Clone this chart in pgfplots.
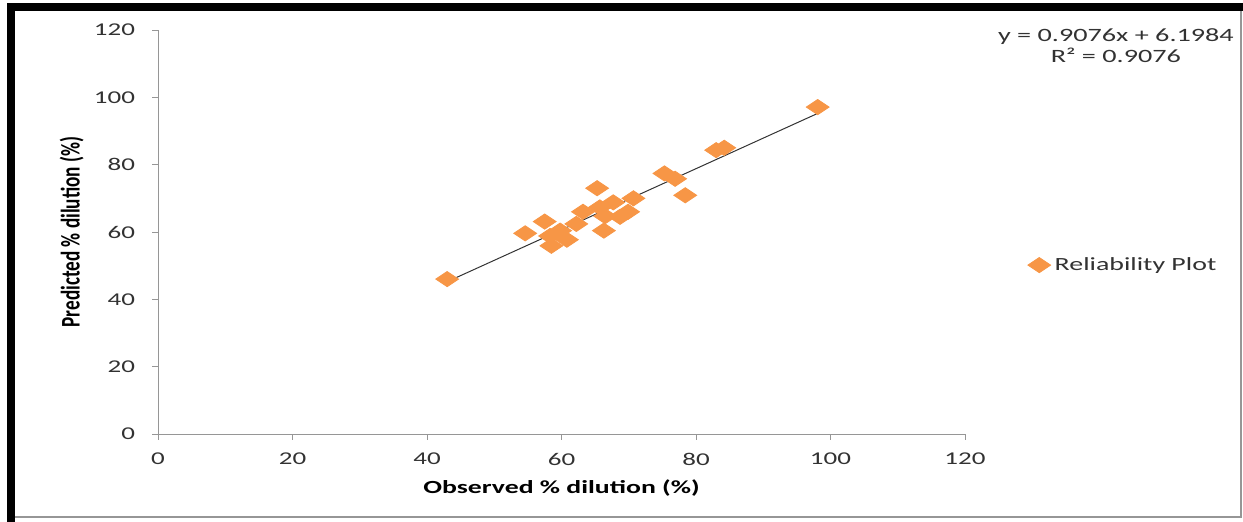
\documentclass[border=0pt]{standalone}
\usepackage{fontspec}
\setmainfont[FakeStretch=1.5]{Carlito}
\newfontfamily\narrowfont{Carlito}
\usepackage{pgfplots}
\pgfplotsset{compat=1.18}
\usepackage{graphicx}
\definecolor{xlorange}{RGB}{247,150,70}
\definecolor{axgray}{RGB}{150,150,150}
\definecolor{txt}{RGB}{50,50,50}

\begin{document}
\begin{tikzpicture}
\useasboundingbox (0pt,0pt) rectangle (621.5pt,261pt);
\begin{axis}[
    at={(79pt,44pt)}, anchor=south west,
    scale only axis,
    width=403.5pt, height=202pt,
    clip=false,
    xmin=0, xmax=120, ymin=0, ymax=120,
    xtick={0,20,...,120}, ytick={0,20,...,120},
    axis x line=bottom, axis y line=left,
    axis line style={axgray, -},
    tick align=outside,
    major tick length=3pt,
    tick style={axgray},
    /pgf/number format/assume math mode=true,
    tick label style={font=\fontsize{9}{10}\selectfont, text=txt},
    yticklabel style={xshift=-5pt},
    xticklabel style={yshift=-3pt},
    xlabel={\bfseries\fontsize{9.25}{10}\selectfont Observed \% dilution (\%)},
    ylabel={\scalebox{1}[1.4]{\narrowfont\bfseries\fontsize{9.6}{10}\selectfont Predicted \% dilution (\%)}},
    xlabel style={at={(axis description cs:0.5,0)}, anchor=center, yshift=-27pt},
    every axis y label/.append style={at={(axis description cs:-0.107,0.5)}, anchor=center},
    legend style={at={(1.07,0.418)}, anchor=west, draw=none, fill=none,
        font=\fontsize{9.3}{10}\selectfont, text=txt},
    legend cell align=left,
]
\addplot[only marks, mark=diamond*, mark size=3.8pt,
    mark options={xscale=2.0, fill=xlorange, draw=xlorange}] coordinates {
    (43.0,46.0) (98.1,97.1) (84.2,85.0) (83.0,84.3) (75.3,77.4) (76.9,75.8)
    (78.4,70.9) (65.3,73.0) (70.7,70.0) (63.2,66.0) (65.7,67.3) (67.7,68.8)
    (66.5,64.7) (69.9,66.0) (68.7,64.5) (62.2,62.4) (57.5,63.1) (54.6,59.6)
    (59.8,60.4) (60.8,57.7) (58.5,55.9) (58.3,58.8) (66.3,60.4)
};
\addlegendentry{Reliability Plot}
\addplot[black!80, line width=0.5pt, forget plot] coordinates {
    (43.0,45.23) (98.1,95.23)
};
\node[anchor=north, align=center, font=\fontsize{9.4}{10.8}\selectfont, text=txt]
    at (rel axis cs:1.187,1.022) {y = 0.9076x + 6.1984\\R² = 0.9076};
\end{axis}
% outer frame
\fill[black] (3.5pt,0pt) rectangle (7.5pt,259.5pt);
\fill[black] (3.5pt,255.5pt) rectangle (621.5pt,259.5pt);
\draw[axgray, line width=0.8pt] (620.5pt,255.5pt) -- (620.5pt,2.5pt) -- (7.5pt,2.5pt);
\end{tikzpicture}
\end{document}
